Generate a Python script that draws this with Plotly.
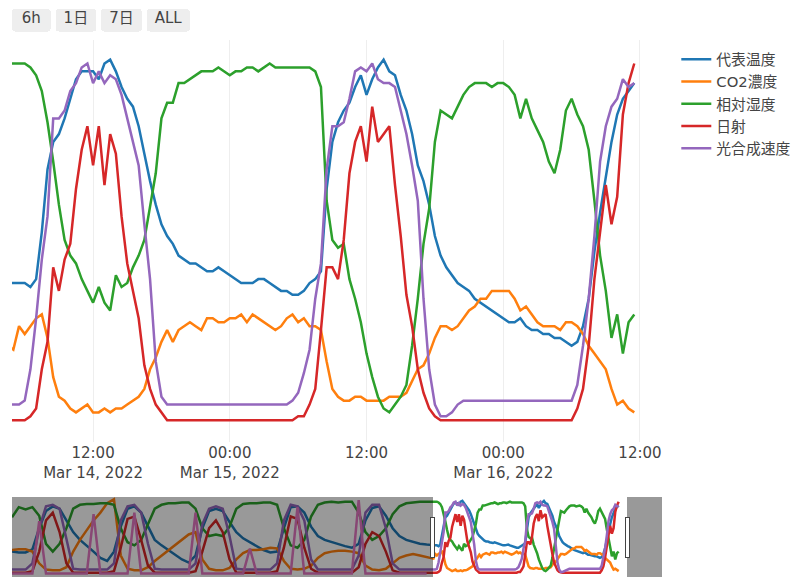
import pandas as pd
import plotly.graph_objects as go

# time axis: 2-hourly readings up to Mar 14, 30-min readings afterwards
early_time = pd.date_range("2022-03-09 01:00", periods=62, freq="2h")
recent_time = pd.date_range("2022-03-14 04:30", periods=111, freq="30min")
time = early_time.append(recent_time)

# values are normalised to 0-100 for display
temp_early = [30, 29, 29, 33, 60, 82, 88, 85, 70, 55, 45, 38,
              30, 22, 18, 30, 62, 85, 88, 80, 62, 45, 38, 32,
              26, 20, 16, 25, 60, 82, 85, 82, 68, 55, 47, 42,
              36, 32, 29, 30, 60, 87, 88, 80, 62, 50, 45, 42,
              39, 37, 35, 40, 70, 86, 88, 76, 60, 50, 45, 42,
              40, 39]
temp_recent = [38, 38, 38, 38, 37, 39, 51, 67, 74, 76, 80, 85, 90, 92, 92, 92, 90, 94, 95, 92,
               88, 85, 83, 78, 71, 64, 58, 53, 50, 48, 45, 44, 43, 43, 42, 41, 41, 42, 41, 40,
               39, 38, 38, 38, 39, 39, 38, 37, 36, 36, 35, 35, 36, 38, 39, 41, 62, 74, 79, 82,
               84, 88, 91, 86, 90, 93, 95, 92, 91, 86, 82, 76, 68, 64, 58, 50, 45, 42, 40, 38,
               37, 36, 34, 33, 32, 31, 30, 29, 28, 28, 29, 27, 26, 26, 25, 25, 24, 24, 23, 22,
               23, 27, 34, 46, 56, 65, 74, 81, 85, 87, 89]

co2_early = [32, 33, 33, 30, 15, 7, 6, 6, 10, 30, 45, 58,
             70, 80, 92, 97, 25, 8, 6, 6, 10, 18, 25, 32,
             38, 45, 52, 55, 20, 8, 6, 6, 9, 20, 28, 32,
             32, 33, 35, 34, 18, 8, 7, 8, 12, 22, 28, 30,
             31, 31, 30, 28, 12, 7, 6, 8, 15, 22, 25, 27,
             25, 23]
co2_recent = [22, 21, 27, 25, 27, 29, 30, 24, 14, 9, 8, 6, 5, 6, 7, 5, 5, 6, 5, 6,
              6, 7, 8, 9, 11, 16, 19, 23, 26, 23, 26, 27, 28, 27, 26, 29, 29, 28, 28, 29,
              29, 30, 28, 30, 29, 28, 27, 26, 27, 29, 30, 28, 29, 27, 27, 26, 18, 11, 9, 8,
              8, 9, 9, 8, 8, 8, 8, 9, 9, 9, 10, 13, 16, 17, 20, 24, 27, 27, 26, 27,
              29, 31, 32, 34, 34, 36, 36, 36, 36, 34, 31, 32, 30, 28, 27, 27, 27, 26, 28, 28,
              27, 25, 22, 20, 18, 16, 11, 7, 8, 6, 5]

humid_early = [74, 87, 84, 87, 76, 40, 30, 40, 60, 85, 90, 91,
               91, 92, 92, 90, 60, 42, 38, 45, 65, 85, 90, 92,
               92, 93, 93, 85, 60, 50, 52, 50, 62, 85, 91, 92,
               92, 93, 93, 90, 60, 38, 35, 45, 75, 90, 93, 94,
               93, 94, 94, 80, 55, 45, 50, 60, 78, 88, 92, 93,
               94, 94]
humid_recent = [94, 94, 94, 94, 93, 91, 87, 79, 69, 58, 49, 45, 43, 39, 36, 33, 37, 33, 31, 40,
                37, 38, 42, 45, 49, 57, 66, 80, 84, 84, 89, 89, 90, 91, 92, 92, 92, 93, 92, 91,
                92, 92, 93, 93, 92, 93, 94, 93, 93, 93, 93, 93, 93, 93, 92, 88, 59, 49, 47, 48,
                39, 34, 28, 20, 14, 9, 6, 5, 7, 9, 12, 22, 34, 48, 57, 74, 82, 81, 80, 83,
                86, 88, 89, 89, 89, 88, 89, 89, 88, 86, 80, 85, 80, 77, 74, 69, 66, 72, 82, 85,
                81, 78, 72, 59, 45, 36, 24, 30, 20, 28, 30]

solar_early = [3, 3, 3, 5, 30, 70, 80, 55, 15, 3, 3, 3,
               3, 3, 3, 5, 35, 72, 75, 45, 12, 3, 3, 3,
               3, 3, 3, 5, 30, 60, 70, 55, 20, 3, 3, 3,
               3, 3, 3, 5, 35, 75, 72, 35, 8, 3, 3, 3,
               3, 3, 3, 10, 40, 55, 50, 30, 6, 3, 3, 3,
               3, 3]
solar_recent = [3, 3, 3, 3, 4, 6, 16, 23, 42, 36, 44, 48, 62, 72, 78, 68, 78, 63, 76, 71,
                55, 43, 36, 29, 17, 11, 7, 5, 3, 3, 3, 3, 3, 3, 3, 3, 3, 3, 3, 3,
                3, 3, 3, 3, 3, 3, 3, 3, 3, 3, 3, 4, 4, 7, 11, 26, 42, 42, 39, 49,
                66, 74, 78, 69, 83, 74, 76, 78, 63, 50, 35, 27, 16, 10, 6, 4, 3, 3, 3, 3,
                3, 3, 3, 3, 3, 3, 3, 3, 3, 3, 3, 3, 3, 3, 3, 3, 3, 3, 3, 3,
                6, 11, 22, 39, 51, 63, 53, 60, 81, 89, 94]

photo_early = [7, 7, 7, 15, 60, 88, 90, 85, 45, 8, 7, 7,
               7, 7, 7, 15, 70, 88, 90, 80, 40, 8, 7, 7,
               7, 7, 7, 15, 65, 85, 88, 85, 50, 8, 7, 7,
               7, 7, 7, 15, 70, 90, 88, 70, 20, 7, 7, 7,
               7, 7, 7, 25, 80, 90, 90, 60, 15, 7, 7, 7,
               7, 7]
photo_recent = [7, 7, 7, 8, 16, 29, 44, 55, 80, 80, 82, 87, 89, 93, 94, 89, 92, 89, 91, 90,
                86, 80, 74, 68, 53, 39, 18, 9, 7, 7, 7, 7, 7, 7, 7, 7, 7, 7, 7, 7,
                7, 7, 7, 7, 7, 7, 7, 7, 7, 7, 8, 10, 15, 21, 34, 43, 67, 78, 78, 79,
                85, 92, 93, 92, 94, 90, 89, 89, 88, 82, 76, 68, 59, 34, 16, 7, 4, 4, 5, 7,
                8, 8, 8, 8, 8, 8, 8, 8, 8, 8, 8, 8, 8, 8, 8, 8, 8, 8, 8, 8,
                12, 22, 34, 50, 69, 78, 83, 85, 90, 88, 89]

# older sparse series only seen in the range slider
old_series = [2, 2, 2, 2, 69, 2, 2, 2, 2, 2, 2, 2,
              78, 2, 2, 2, 2, 2, 80, 2, 2, 2, 2, 2,
              2, 2, 2, 80, 2, 2, 2, 2, 2, 2, 2, 34,
              2, 2, 2, 2, 2, 2, 87, 2, 2, 2, 2, 2,
              2, 2, 2, 96, 2, 2, 2, 2, 2, 2, 2, 2,
              2, 2]

names = ["代表温度", "CO2濃度", "相対湿度", "日射", "光合成速度"]
colors = ["#1f77b4", "#ff7f0e", "#2ca02c", "#d62728", "#9467bd"]
values = [temp_early + temp_recent, co2_early + co2_recent, humid_early + humid_recent,
          solar_early + solar_recent, photo_early + photo_recent]

# range selector labels (padded a little so the buttons come out wider)
button_labels = ["\u00a06h\u00a0", "\u20091日\u2009", "\u20097日\u2009", "\u2009ALL\u2009"]

fig = go.Figure()
for name, color, vals in zip(names, colors, values):
    fig.add_trace(go.Scatter(x=time, y=vals, mode="lines", name=name,
                             line=dict(color=color, width=2.5)))
fig.add_trace(go.Scatter(x=early_time, y=old_series, mode="lines", showlegend=False,
                         hoverinfo="skip", line=dict(color="#e377c2", width=2.5)))

fig.update_layout(
    width=795, height=572,
    margin=dict(l=4, r=141, t=32, b=138, autoexpand=False),
    paper_bgcolor="white", plot_bgcolor="white",
    font=dict(family="Verdana, DejaVu Sans, Noto Sans CJK JP", size=15, color="#444"),
    legend=dict(x=1.022, y=0.992, font=dict(size=14.8)),
)
fig.update_xaxes(
    type="date",
    range=["2022-03-14 04:53", "2022-03-16 13:56"],
    tick0="2022-03-14", dtick=12 * 3600 * 1000,
    showgrid=True, gridcolor="#eeeeee", zeroline=False, showline=False,
    tickfont=dict(size=15),
    rangeselector=dict(font=dict(size=15), buttons=[
        dict(count=6, label=button_labels[0], step="hour", stepmode="backward"),
        dict(count=1, label=button_labels[1], step="day", stepmode="backward"),
        dict(count=7, label=button_labels[2], step="day", stepmode="backward"),
        dict(label=button_labels[3], step="all"),
    ]),
    rangeslider=dict(visible=True, thickness=0.2, bgcolor="white",
                     range=["2022-03-09 01:00", "2022-03-17 00:15"]),
)
fig.update_yaxes(range=[-2.55, 100], visible=False)

fig.write_html("out.html")
